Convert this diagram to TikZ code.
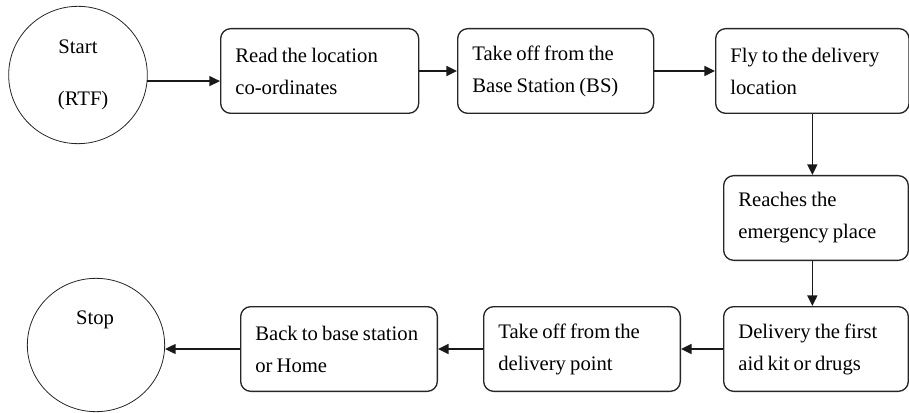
\documentclass[tikz,border=0pt]{standalone}
\usepackage{fontspec}
\setmainfont{Liberation Serif}
\usetikzlibrary{arrows.meta,shapes.geometric}

\newcommand{\boxfont}{\fontsize{15.5}{24}\selectfont}

\tikzset{
	stepbox/.style={draw=black!85, line width=1pt, rounded corners=7.5pt, anchor=north west, minimum height=63.5pt, inner xsep=11pt, align=left, font=\boxfont, execute at begin node={\spaceskip=0.2em plus 0.1em minus 0.05em\relax\hyphenpenalty=10000\relax}},
	terminal/.style={draw=black!85, line width=0.6pt, ellipse, inner sep=0pt, align=center, font=\boxfont},
	flow/.style={-{Triangle[length=8pt,width=7.5pt]}, line width=1.2pt, black!90}
}

\begin{document}
\begin{tikzpicture}[x=0.75pt, y=-0.75pt]
		\useasboundingbox (0,0) rectangle (909,413);
		\node[terminal, minimum width=104pt, minimum height=103pt] (start) at (78,75) {Start\\[15.5pt]\ \ (RTF)};
		\node[stepbox, minimum width=148.5pt, text width=126.5pt] (read) at (220,28) {Read the location\\co-ordinates};
		\node[stepbox, minimum width=147pt, text width=125pt] (takeoff) at (457,28) {Take off from the\\Base Station (BS)};
		\node[stepbox, minimum width=145pt, text width=123pt] (fly) at (715,28) {Fly to the delivery\\location};
		\node[stepbox, minimum width=138.5pt, text width=116.5pt] (reach) at (723,175) {Reaches the\\emergency place};
		\node[stepbox, minimum width=138.5pt, text width=116.5pt] (drop) at (723,306) {Delivery the first\\aid kit or drugs};
		\node[stepbox, minimum width=147.5pt, text width=125.5pt] (leave) at (483,306) {Take off from the\\delivery point};
		\node[stepbox, minimum width=147.5pt, text width=125.5pt] (back) at (240,306) {Back to base station\\or Home};
		\node[terminal, minimum width=103pt, minimum height=100pt] (stop) at (96,345) {};
		\node[font=\boxfont] (stoptext) at (95,320) {Stop};
		\draw[flow] (start.-5) -- (start.-5 -| read.west);
		\draw[flow] (read.east) -- (takeoff.west);
		\draw[flow] (takeoff.east) -- (fly.west);
		\draw[flow] (fly.south) -- (fly.south |- reach.north);
		\draw[flow] (fly.south |- reach.south) -- (fly.south |- drop.north);
		\draw[flow] (drop.west) -- (leave.east);
		\draw[flow] (leave.west) -- (back.east);
		\draw[flow] (back.west) -- (back.west -| stop.east);
	\end{tikzpicture}
\end{document}
